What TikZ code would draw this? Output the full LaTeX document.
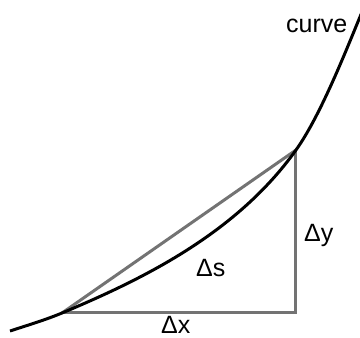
\documentclass[tikz,border=0pt]{standalone}
\usepackage{fontspec}
\setmainfont{Liberation Sans}
\begin{document}
\begin{tikzpicture}[x=1pt,y=1pt,
  lbl/.style={anchor=base west,inner sep=0pt,font=\fontsize{25}{28}\selectfont},
  leg/.style={line width=3pt,draw=black!55},
  crv/.style={line width=3pt,draw=black}]
\useasboundingbox (0,0) rectangle (360,338);
\coordinate (A) at (62,25);
\coordinate (B) at (296,188);
\coordinate (C) at (296,25);
\coordinate (S) at (10,7);
\coordinate (E) at (362,326);
\draw[leg] (A) -- (C) -- (B);
\draw[leg] (A) -- (B);
\draw[crv] (S) .. controls (27,12.6) and (45,17.9) .. (A)
  .. controls (142,58.6) and (236,104) .. (B)
  .. controls (321,223) and (347,290) .. (E);
\node[lbl] (lc) at (286,305) {curve};
\node[lbl] (ly) at (304,96) {Δy};
\node[lbl] (ls) at (196,61) {Δs};
\node[lbl] (lx) at (161,4) {Δx};
\end{tikzpicture}
\end{document}
